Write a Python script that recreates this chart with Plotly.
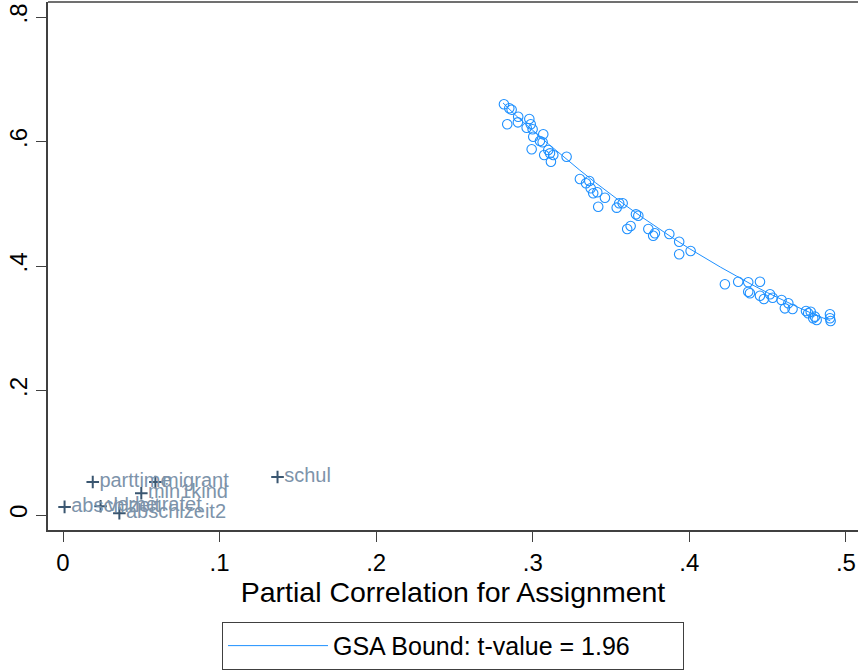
import plotly.graph_objects as go

# GSA simulated points (partial correlation for assignment, for outcome)
sim_x = [0.2816, 0.2850, 0.2865, 0.2837, 0.2907, 0.2905, 0.2978, 0.2987, 0.2961, 0.2999,
         0.3003, 0.3046, 0.3067, 0.3063, 0.2993, 0.3073, 0.3099, 0.3110, 0.3131, 0.3116,
         0.3216, 0.3301, 0.3361, 0.3340, 0.3370, 0.3386, 0.3412, 0.3461, 0.3418, 0.3536,
         0.3552, 0.3574, 0.3659, 0.3674, 0.3603, 0.3625, 0.3738, 0.3769, 0.3780, 0.3872,
         0.3935, 0.3935, 0.4008, 0.4227, 0.4312, 0.4376, 0.4376, 0.4387, 0.4451, 0.4451,
         0.4476, 0.4515, 0.4532, 0.4589, 0.4610, 0.4632, 0.4659, 0.4745, 0.4759, 0.4775,
         0.4802, 0.4813, 0.4791, 0.4898, 0.4902, 0.4898]
sim_y = [0.6598, 0.6533, 0.6511, 0.6276, 0.6398, 0.6308, 0.6361, 0.6276, 0.6222, 0.6196,
         0.6077, 0.6008, 0.6116, 0.5987, 0.5875, 0.5783, 0.5863, 0.5810, 0.5783, 0.5675,
         0.5756, 0.5398, 0.5365, 0.5329, 0.5248, 0.5168, 0.5184, 0.5097, 0.4953, 0.4937,
         0.5007, 0.5007, 0.4830, 0.4808, 0.4594, 0.4643, 0.4594, 0.4487, 0.4525, 0.4514,
         0.4390, 0.4188, 0.4241, 0.3706, 0.3748, 0.3738, 0.3587, 0.3562, 0.3748, 0.3523,
         0.3470, 0.3545, 0.3491, 0.3454, 0.3320, 0.3401, 0.3309, 0.3277, 0.3240, 0.3266,
         0.3186, 0.3133, 0.3160, 0.3224, 0.3116, 0.3160]

# GSA bound curve (t-value = 1.96)
bound_x = [0.281, 0.290, 0.300, 0.310, 0.320, 0.330, 0.340, 0.350, 0.360, 0.370, 0.380,
           0.390, 0.400, 0.410, 0.420, 0.430, 0.440, 0.450, 0.460, 0.470, 0.480, 0.490]
bound_y = [0.662, 0.640, 0.618, 0.596, 0.575, 0.554, 0.534, 0.515, 0.496, 0.478, 0.461,
           0.444, 0.428, 0.413, 0.398, 0.384, 0.370, 0.357, 0.345, 0.333, 0.322, 0.312]

# Observed covariates
cov_names = ["schul", "parttime", "migrant", "min1kind", "abschlzeit", "verheiratet", "abschlzeit2"]
cov_x = [0.137, 0.019, 0.059, 0.050, 0.001, 0.024, 0.036]
cov_y = [0.061, 0.053, 0.053, 0.035, 0.013, 0.014, 0.003]

x_ticks = [0, 0.1, 0.2, 0.3, 0.4, 0.5]
x_tick_labels = ["0", ".1", ".2", ".3", ".4", ".5"]
y_ticks = [0, 0.2, 0.4, 0.6, 0.8]
y_tick_labels = ["0", ".2", ".4", ".6", ".8"]

BLUE = "#1e90ff"
FONT = "Liberation Sans, Arial, sans-serif"

fig = go.Figure()
fig.add_trace(go.Scatter(
    x=sim_x, y=sim_y, mode="markers", showlegend=False,
    marker=dict(symbol="circle-open", size=9.5, color=BLUE, line=dict(width=1.1, color=BLUE)),
))
fig.add_trace(go.Scatter(
    x=bound_x, y=bound_y, mode="lines", name="GSA Bound: t-value = 1.96",
    line=dict(color=BLUE, width=1, shape="spline"),
))
fig.add_trace(go.Scatter(
    x=cov_x, y=cov_y, mode="markers+text", showlegend=False,
    text=cov_names, textposition="middle right",
    textfont=dict(family=FONT, size=20, color="#7d93aa"),
    marker=dict(symbol="cross-thin", size=9, line=dict(width=2, color="#3a5670"), color="#3a5670"),
))

axis_common = dict(
    showgrid=False, zeroline=False, showline=True, linecolor="#404040", linewidth=1.5,
    ticks="outside", ticklen=10, tickwidth=1.2, tickcolor="#404040",
    tickfont=dict(family=FONT, size=24, color="#000000"), automargin=False,
)
fig.update_xaxes(
    range=[-0.00958, 0.5077], tickvals=x_ticks, ticktext=x_tick_labels,
    title=dict(text="Partial Correlation for Assignment", font=dict(family=FONT, size=28.5, color="#000000"), standoff=2),
    **axis_common,
)
fig.update_yaxes(
    range=[-0.0241, 0.8241], tickvals=y_ticks, ticktext=y_tick_labels, tickangle=-90,
    **axis_common,
)
fig.add_shape(type="line", xref="paper", yref="paper", x0=0, x1=1, y0=1, y1=1,
              line=dict(color="#404040", width=1.5))

fig.update_layout(
    width=858, height=670,
    margin=dict(l=48, r=0, t=2, b=140, autoexpand=False),
    paper_bgcolor="white", plot_bgcolor="white",
    font=dict(family=FONT),
    legend=dict(
        orientation="h", x=0.5, xanchor="center", y=-0.174, yanchor="top",
        bordercolor="#404040", borderwidth=1, bgcolor="white",
        font=dict(family=FONT, size=25, color="#000000"),
        itemwidth=100, entrywidth=345,
    ),
)

fig.write_html("out.html", config={"displayModeBar": False},
               post_script="document.body.style.margin='0';")
